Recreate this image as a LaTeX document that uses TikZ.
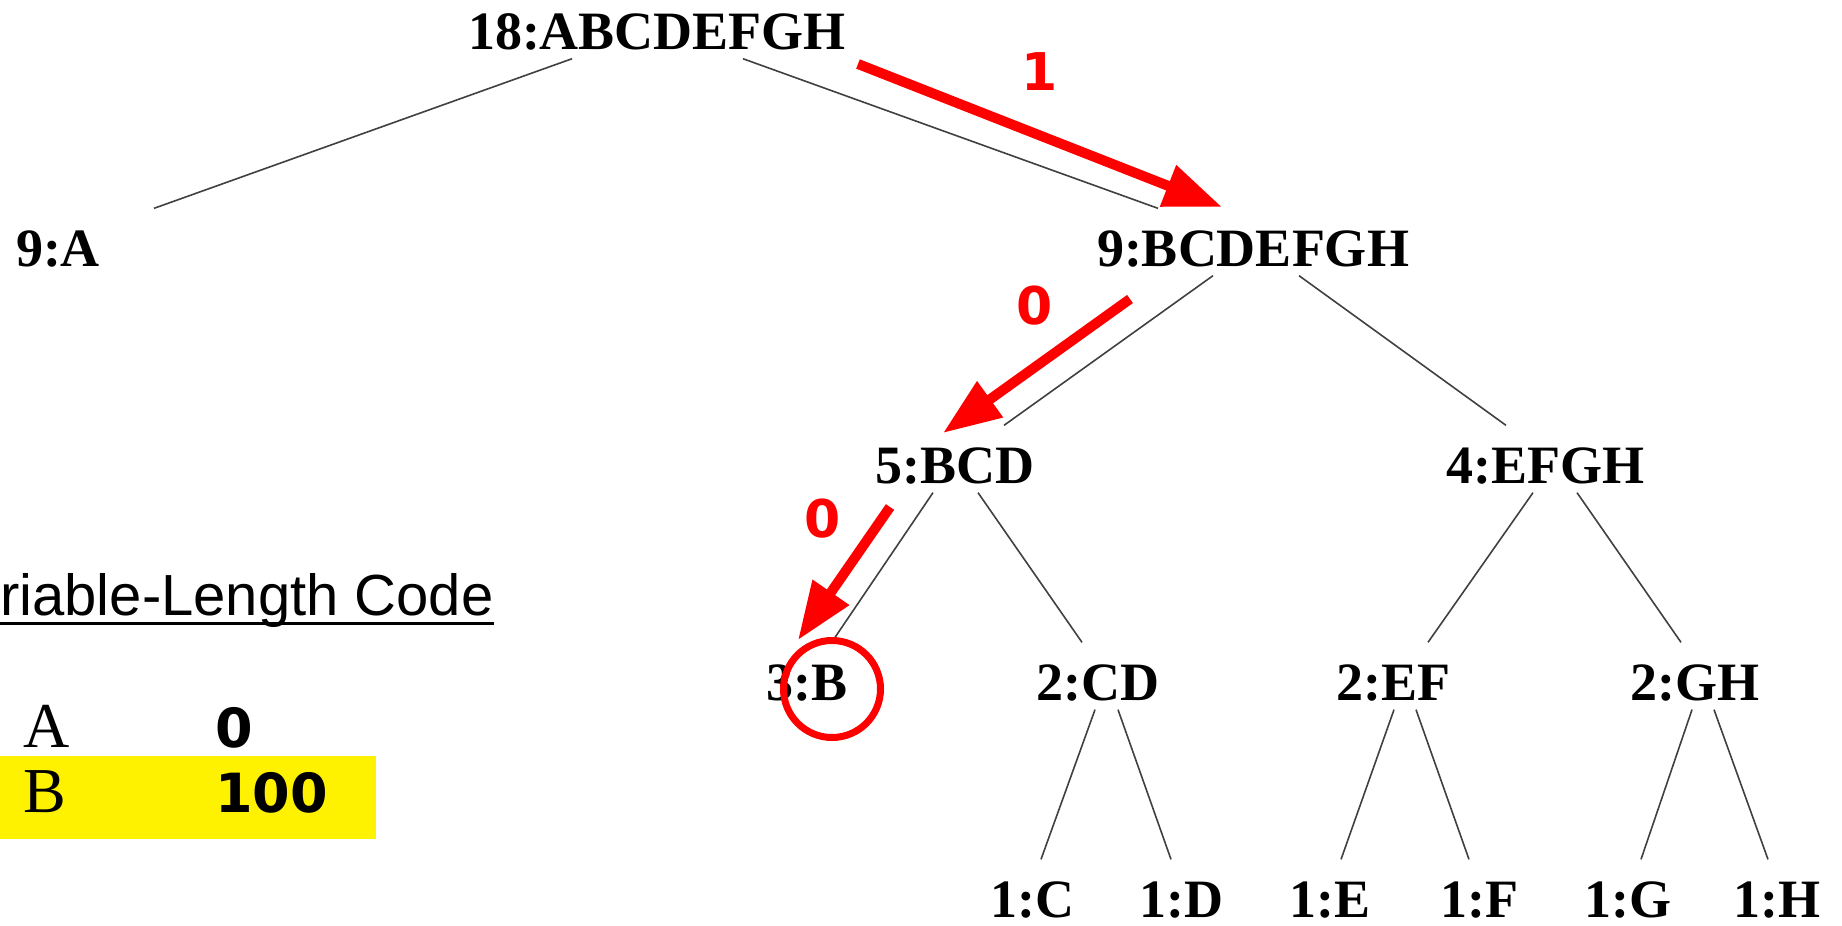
\documentclass[tikz,border=0pt]{standalone}
\usepackage{fontspec}
\setmainfont{Liberation Serif}
\newfontfamily\arialfont{Liberation Sans}
\newfontfamily\dejafont{DejaVu Sans}
\usetikzlibrary{arrows.meta}
\tikzstyle{tnode} = [inner sep=4pt,
font=\fontsize{27}{32}\selectfont\bfseries]
\tikzstyle{branch} = [draw=black!75, line width=0.8pt]
\tikzstyle{bitarrow} = [draw=red, line width=5pt,
-{Triangle[length=29pt,width=21pt]}]
\tikzstyle{bitlabel} = [text=red, inner sep=0pt,
font=\dejafont\fontsize{26}{30}\selectfont\bfseries]
\tikzstyle{codetext} = [inner sep=0pt, anchor=base west,
font=\fontsize{32}{38}\selectfont]
\tikzstyle{codebits} = [inner sep=0pt, anchor=base west,
font=\dejafont\fontsize{27}{32}\selectfont\bfseries]
\tikzstyle{ringmark} = [draw=red, line width=3.5pt, circle,
minimum size=48.5pt, inner sep=0pt]

\begin{document}
\begin{tikzpicture}[x=0.5pt, y=-0.5pt, node distance=108.5pt]
                \useasboundingbox (0,0) rectangle (1842,926);

                % code table
                \fill[yellow] (0,756) rectangle (376,839);
                \node[inner sep=0pt, anchor=base east, font=\arialfont\fontsize{29}{35}\selectfont] (title) at (494,615) {riable-Length Code};
                \draw[line width=1.5pt] ([yshift=-4pt]title.base west) -- ([yshift=-4pt]title.base east);
                \node[codetext] (symA) at (23,747) {A};
                \node[codebits] (bitsA) at (215,747) {0};
                \node[codetext] (symB) at (23,812) {B};
                \node[codebits] (bitsB) at (215,812) {100};

                % tree
                \node[tnode] (root) at (657,32) {18:ABCDEFGH};
                \node[tnode, below of=root, xshift=-299.5pt] (nA) {9:A};
                \node[tnode, below of=root, xshift=298pt] (nBH) {9:BCDEFGH};
                \node[tnode, below of=nBH, xshift=-149pt] (nBCD) {5:BCD};
                \node[tnode, below of=nBH, xshift=146pt] (nEH) {4:EFGH};
                \node[tnode, below of=nBCD, xshift=-74pt] (nB) {3:B};
                \node[tnode, below of=nBCD, xshift=71.5pt] (nCD) {2:CD};
                \node[tnode, below of=nEH, xshift=-76pt] (nEF) {2:EF};
                \node[tnode, below of=nEH, xshift=75pt] (nGH) {2:GH};
                \node[tnode, below of=nCD, xshift=-33pt] (nC) {1:C};
                \node[tnode, below of=nCD, xshift=41.5pt] (nD) {1:D};
                \node[tnode, below of=nEF, xshift=-31.5pt] (nE) {1:E};
                \node[tnode, below of=nEF, xshift=43pt] (nF) {1:F};
                \node[tnode, below of=nGH, xshift=-33.5pt] (nG) {1:G};
                \node[tnode, below of=nGH, xshift=41pt] (nH) {1:H};

                \draw[branch] ([xshift=-42.5pt]root.south) -- ([xshift=48pt,yshift=7pt]nA.north);
                \draw[branch] ([xshift=43pt]root.south) -- ([xshift=-47.5pt,yshift=7pt]nBH.north);

                \draw[branch] ([xshift=-20pt]nBH.south) -- ([xshift=24.5pt,yshift=7pt]nBCD.north);
                \draw[branch] ([xshift=23pt]nBH.south) -- ([xshift=-19.5pt,yshift=7pt]nEH.north);

                \draw[branch] ([xshift=-11pt]nBCD.south) -- ([xshift=13pt,yshift=8pt]nB.north);
                \draw[branch] ([xshift=11.5pt]nBCD.south) -- ([xshift=-8pt,yshift=7pt]nCD.north);

                \draw[branch] ([xshift=-6pt]nEH.south) -- ([xshift=17.5pt,yshift=7pt]nEF.north);
                \draw[branch] ([xshift=16pt]nEH.south) -- ([xshift=-7pt,yshift=7pt]nGH.north);

                \draw[branch] ([xshift=-1.5pt]nCD.south) -- ([xshift=4.5pt,yshift=7pt]nC.north);
                \draw[branch] ([xshift=10pt]nCD.south) -- ([xshift=-5pt,yshift=7pt]nD.north);

                \draw[branch] ([xshift=0.5pt]nEF.south) -- ([xshift=5.5pt,yshift=7pt]nE.north);
                \draw[branch] ([xshift=11.5pt]nEF.south) -- ([xshift=-5pt,yshift=7pt]nF.north);

                \draw[branch] ([xshift=-1.5pt]nGH.south) -- ([xshift=6.5pt,yshift=7pt]nG.north);
                \draw[branch] ([xshift=9.5pt]nGH.south) -- ([xshift=-4.5pt,yshift=7pt]nH.north);

                % path to B
                \coordinate (t1) at (858,64);
                \coordinate (h1) at (1222,207);
                \coordinate (t2) at (1130,299);
                \coordinate (h2) at (943,433);
                \coordinate (t3) at (890,507);
                \coordinate (h3) at (798,640);

                \draw[bitarrow] (t1) -- (h1);
                \draw[bitarrow] (t2) -- (h2);
                \draw[bitarrow] (t3) -- (h3);

                \node[bitlabel] (one) at (1040,72) {1};
                \node[bitlabel] (zeroA) at (1035,306) {0};
                \node[bitlabel] (zeroB) at (823,519) {0};

                \node[ringmark] (ring) at (832,689) {};
            \end{tikzpicture}
\end{document}
